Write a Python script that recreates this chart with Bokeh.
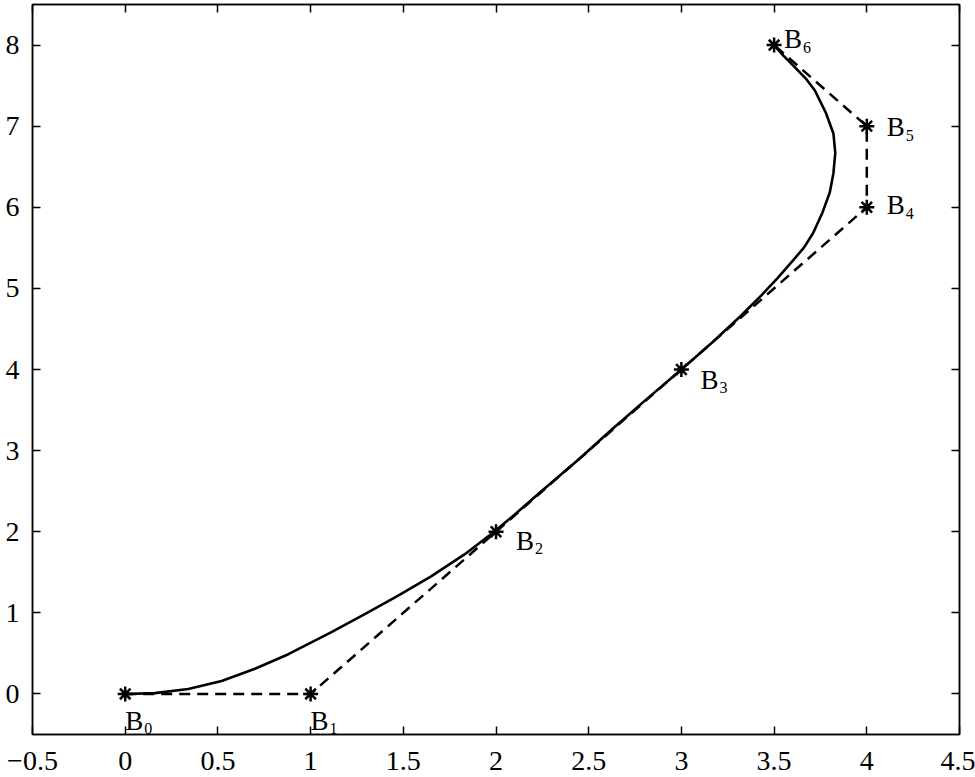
from bokeh.plotting import figure
from bokeh.models import (Range1d, LinearAxis, FixedTicker, CustomJSTickFormatter,
                          ColumnDataSource, CustomLabelingPolicy)
from bokeh.core.properties import value
from bokeh.embed import file_html
from bokeh.resources import INLINE

# Control polygon points B0..B6
ctrl_x = [0, 1, 2, 3, 4, 4, 3.5]
ctrl_y = [0, 0, 2, 4, 6, 7, 8]
ctrl_main = ["B", "B", "B", "B", "B", "B", "B"]
ctrl_sub = ["0", "1", "2", "3", "4", "5", "6"]

# Curve
curve_x = [0, 0.16, 0.34, 0.52, 0.70, 0.88, 1.11, 1.29, 1.47, 1.65, 1.83, 1.99, 2.10,
           2.24, 2.45, 2.62, 2.80, 3.00, 3.16, 3.32, 3.43, 3.52, 3.60, 3.66, 3.71,
           3.76, 3.80, 3.82, 3.83, 3.82, 3.78, 3.72, 3.67, 3.61, 3.55, 3.50]
curve_y = [0, 0.01, 0.06, 0.16, 0.31, 0.49, 0.76, 0.98, 1.21, 1.45, 1.72, 2.00, 2.21,
           2.49, 2.90, 3.25, 3.61, 4.00, 4.32, 4.66, 4.91, 5.13, 5.34, 5.50, 5.68,
           5.93, 6.18, 6.42, 6.67, 6.91, 7.16, 7.44, 7.59, 7.73, 7.87, 8.00]

x_ticks = [-0.5, 0, 0.5, 1, 1.5, 2, 2.5, 3, 3.5, 4, 4.5]
y_ticks = [0, 1, 2, 3, 4, 5, 6, 7, 8]

# label placement (screen pixels, style only)
lab_dx = [0, 0, 20, 19, 20, 20, 10]
lab_dy = [27, 27, 9, 10, -2, 1, -6]

FONT = "Liberation Serif"

p = figure(width=975, height=777,
           x_range=Range1d(-0.5, 4.5), y_range=Range1d(-0.5, 8.5),
           output_backend="svg", toolbar_location=None,
           x_axis_location=None, y_axis_location=None,
           min_border_left=32, min_border_right=16,
           min_border_top=3, min_border_bottom=43)
p.background_fill_color = "white"
p.border_fill_color = "white"
p.outline_line_color = "black"
p.outline_line_width = 1.5
p.outline_line_alpha = 1.0
p.xgrid.visible = False
p.ygrid.visible = False

fmt = CustomJSTickFormatter(code="return String(tick).replace('-', '\u2212');")


def style_axis(ax, show_labels, standoff):
    ax.axis_line_color = "black"
    ax.axis_line_width = 1.5
    ax.major_tick_in = 8
    ax.major_tick_out = 0
    ax.major_tick_line_width = 1.5
    ax.major_tick_line_color = "black"
    ax.minor_tick_in = 0
    ax.minor_tick_out = 0
    ax.major_label_text_font = FONT
    ax.major_label_text_color = "black"
    ax.major_label_standoff = standoff
    if show_labels:
        ax.major_label_text_font_size = "28px"
    else:
        ax.major_label_text_font_size = "1px"
        ax.major_label_standoff = 0
        ax.major_label_policy = CustomLabelingPolicy(code="return [];")


left = LinearAxis(ticker=FixedTicker(ticks=y_ticks), formatter=fmt)
style_axis(left, True, 13)
p.add_layout(left, "left")

bottom = LinearAxis(ticker=FixedTicker(ticks=x_ticks), formatter=fmt)
style_axis(bottom, True, 17)
p.add_layout(bottom, "below")

top = LinearAxis(ticker=FixedTicker(ticks=x_ticks), formatter=fmt)
style_axis(top, False, 0)
p.add_layout(top, "above")

right = LinearAxis(ticker=FixedTicker(ticks=y_ticks), formatter=fmt)
style_axis(right, False, 0)
p.add_layout(right, "right")

# control polygon (dashed)
p.line(ctrl_x, ctrl_y, line_color="black", line_width=2.5, line_dash="11 7")
# curve
p.line(curve_x, curve_y, line_color="black", line_width=2.6, line_join="round")
# control points
p.scatter(ctrl_x, ctrl_y, marker="asterisk", size=15, line_color="black", line_width=2.5)

src = ColumnDataSource(dict(
    x=ctrl_x, y=ctrl_y, main=ctrl_main, sub=ctrl_sub,
    dx=lab_dx, dy=lab_dy,
    sdx=[d + 19 for d in lab_dx], sdy=[d + 8 for d in lab_dy],
))
p.text(x="x", y="y", text="main", x_offset="dx", y_offset="dy", source=src,
       text_font=value(FONT), text_font_size="27px", text_color="black",
       text_align="left", text_baseline="alphabetic")
p.text(x="x", y="y", text="sub", x_offset="sdx", y_offset="sdy", source=src,
       text_font=value(FONT), text_font_size="16px", text_color="black",
       text_align="left", text_baseline="alphabetic")

open("out.html", "w").write(file_html(p, INLINE))
